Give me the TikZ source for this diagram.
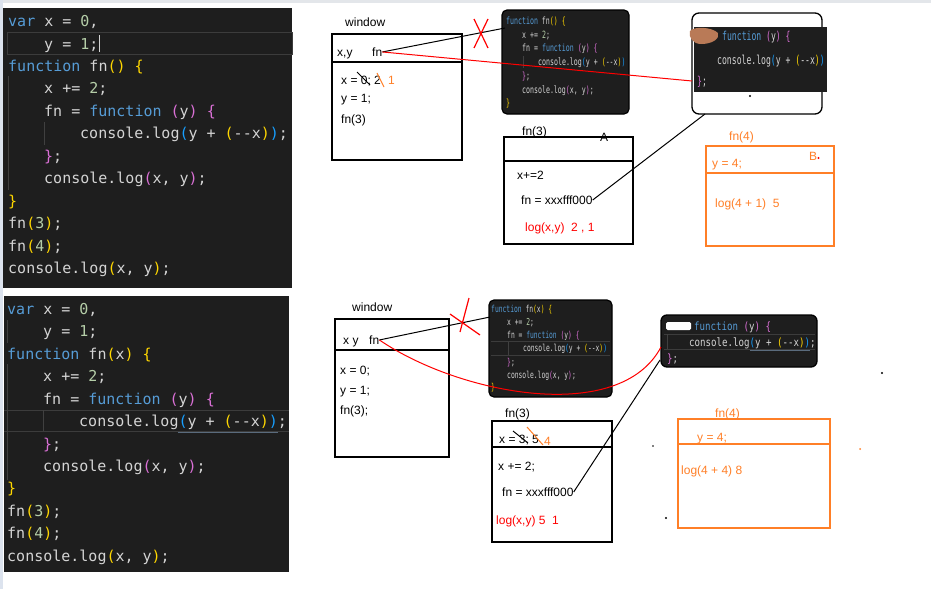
\documentclass[tikz,border=0pt]{standalone}
\usepackage{fontspec}
\setmainfont{Liberation Sans}
\newfontfamily\codefont{DejaVu Sans Mono}
\newfontfamily\condfont[FakeStretch=0.66]{DejaVu Sans Mono}
\newfontfamily\condwide[FakeStretch=0.8]{DejaVu Sans Mono}

\definecolor{codebg}{HTML}{1E1E1E}
\definecolor{codetx}{HTML}{D4D4D4}
\definecolor{kw}{HTML}{569CD6}
\definecolor{numc}{HTML}{B5CEA8}
\definecolor{brA}{HTML}{FFD700}
\definecolor{brB}{HTML}{DA70D6}
\definecolor{brC}{HTML}{179FFF}
\definecolor{hlline}{HTML}{3C3C3C}
\definecolor{guide}{HTML}{404040}
\definecolor{uline}{HTML}{5A6B7D}
\definecolor{edgegray}{HTML}{E3E6EA}
\definecolor{edgeblue}{HTML}{DCE3EE}
\definecolor{inkorange}{HTML}{FF7F27}
\definecolor{inkred}{HTML}{FF0000}
\definecolor{blobbrown}{HTML}{B97A57}

\newcommand\ckw[1]{\textcolor{kw}{#1}}
\newcommand\cnum[1]{\textcolor{numc}{#1}}
\newcommand\cba[1]{\textcolor{brA}{#1}}
\newcommand\cbb[1]{\textcolor{brB}{#1}}
\newcommand\cbc[1]{\textcolor{brC}{#1}}

\tikzset{
  code/.style={anchor=base west, inner sep=0pt, text=codetx, font=\codefont\fontsize{15}{18}\selectfont},
  minicode/.style={anchor=base west, inner sep=0pt, text=codetx, font=\condfont\fontsize{10}{12}\selectfont},
  minicodeb/.style={anchor=base west, inner sep=0pt, text=codetx, font=\condfont\fontsize{9.6}{12}\selectfont},
  midcode/.style={anchor=base west, inner sep=0pt, text=codetx, font=\condfont\fontsize{12.3}{14}\selectfont},
  widecode/.style={anchor=base west, inner sep=0pt, text=codetx, font=\condwide\fontsize{11.4}{14}\selectfont},
  lbl/.style={anchor=base west, inner sep=0pt, font=\fontsize{12}{14}\selectfont},
  olbl/.style={lbl, text=inkorange},
  rlbl/.style={lbl, text=inkred},
  framebox/.style={draw=black, line width=1.3pt},
  oframebox/.style={draw=inkorange, line width=1.3pt},
  link/.style={draw=black, line width=1pt},
  rlink/.style={draw=inkred, line width=1pt},
  guideline/.style={draw=guide, line width=0.8pt}
}

\begin{document}
\begin{tikzpicture}[x=1pt,y=-1pt]
\useasboundingbox (0,0) rectangle (931,589);
\fill[white] (0,0) rectangle (931,589);
\fill[edgegray] (0,0) rectangle (931,2.5);
\fill[edgeblue] (0,0) rectangle (3,589);

% ---------- editor panel: first version ----------
\fill[codebg] (3,8) rectangle (292,288);
\draw[hlline, line width=1pt] (7,32) rectangle (292,54);
\draw[guideline] (8,76) -- (8,190);
\draw[guideline] (44,122) -- (44,145);
\node[code] (a1) at (8,26.5) {\ckw{var} x = \cnum{0},};
\node[code] (a2) at (44,49) {y = \cnum{1};};
\draw[codetx, line width=1pt] (99.5,35) -- (99.5,52);
\node[code] (a3) at (8,71) {\ckw{function} fn\cba{()} \cba{\{}};
\node[code] (a4) at (44,93.5) {x += \cnum{2};};
\node[code] (a5) at (44,116) {fn = \ckw{function} \cbb{(}y\cbb{)} \cbb{\{}};
\node[code] (a6) at (80,138) {console.log\cbc{(}y + \cba{(}-{}-x\cba{)}\cbc{)};};
\node[code] (a7) at (44,161) {\cbb{\}};};
\node[code] (a8) at (44,183) {console.log\cbb{(}x, y\cbb{)};};
\node[code] (a9) at (8,206) {\cba{\}}};
\node[code] (a10) at (8,228) {fn\cba{(}\cnum{3}\cba{)};};
\node[code] (a11) at (8,251) {fn\cba{(}\cnum{4}\cba{)};};
\node[code] (a12) at (8,273) {console.log\cba{(}x, y\cba{)};};

% ---------- editor panel: second version ----------
\fill[codebg] (4,296) rectangle (289,572);
\draw[hlline, line width=1pt] (4,410) -- (289,410) (4,431) -- (289,431);
\draw[guideline] (7,320) -- (7,343);
\draw[guideline] (7,364) -- (7,480);
\draw[guideline] (43,410) -- (43,431);
\draw[uline, line width=0.8pt] (178,432) -- (278,432);
\node[code] (b1) at (7,314) {\ckw{var} x = \cnum{0},};
\node[code] (b2) at (43,336.5) {y = \cnum{1};};
\node[code] (b3) at (7,359) {\ckw{function} fn\cba{(}x\cba{)} \cba{\{}};
\node[code] (b4) at (43,381.5) {x += \cnum{2};};
\node[code] (b5) at (43,404) {fn = \ckw{function} \cbb{(}y\cbb{)} \cbb{\{}};
\node[code] (b6) at (79,426) {console.log\cbc{(}y + \cba{(}-{}-x\cba{)}\cbc{)};};
\node[code] (b7) at (43,449) {\cbb{\}};};
\node[code] (b8) at (43,471) {console.log\cbb{(}x, y\cbb{)};};
\node[code] (b9) at (7,493.5) {\cba{\}}};
\node[code] (b10) at (7,516) {fn\cba{(}\cnum{3}\cba{)};};
\node[code] (b11) at (7,538.5) {fn\cba{(}\cnum{4}\cba{)};};
\node[code] (b12) at (7,561) {console.log\cba{(}x, y\cba{)};};

% ================= upper diagram =================
% global scope
\node[lbl] (w1lbl) at (345,26) {window};
\draw[framebox] (332,34) rectangle (462,160);
\draw[framebox] (332,62) -- (462,62);
\node[lbl] (w1xy) at (337,56.3) {x,y};
\node[lbl] (w1fn) at (372,56.3) {fn};
\node[lbl] (w1x) at (341,84.3) {x = 0; 2};
\draw[black, line width=1pt] (357,72) -- (370,85);
\draw[inkorange, line width=1pt] (377,73) -- (384,87);
\node[olbl] (w1one) at (388,84.3) {1};
\node[lbl] (w1y) at (341,102.3) {y = 1;};
\node[lbl] (w1call) at (341,123.3) {fn(3)};

% fn source
\draw[line width=1.2pt, fill=codebg, rounded corners=5pt] (502,10) rectangle (629,114);
\draw[guideline, line width=0.6pt] (523,56) -- (523,68);
\node[minicode] (s1) at (506,24) {\ckw{function} fn\cba{()} \cba{\{}};
\node[minicode] (s2) at (522,38) {x += \cnum{2};};
\node[minicode] (s3) at (522,51.5) {fn = \ckw{function} \cbb{(}y\cbb{)} \cbb{\{}};
\node[minicode] (s4) at (538,65) {console.log\cbc{(}y + \cba{(}-{}-x\cba{)}\cbc{)}};
\node[minicode] (s5) at (522,79) {\cbb{\}};};
\node[minicode] (s6) at (522,93) {console.log\cbb{(}x, y\cbb{)};};
\node[minicode] (s7) at (506,106.5) {\cba{\}}};
\coordinate (s-in) at (505,28);

% inner function source
\draw[line width=1.3pt, fill=white, rounded corners=7pt] (692,13) rectangle (822,114);
\fill[codebg] (694,27) rectangle (827,92);
\node[midcode] (f1) at (722,40) {\ckw{function} \cbb{(}y\cbb{)} \cbb{\{}};
\node[midcode] (f2) at (717,64) {console.log\cbc{(}y + \cba{(}-{}-x\cba{)}\cbc{)}};
\node[midcode] (f3) at (697,85) {\cbb{\}};};
\fill[blobbrown] (690,31) .. controls (694,26) and (712,27) .. (718,33)
  .. controls (720,39) and (712,44) .. (701,44) .. controls (693,44) and (688,37) .. (690,31);
\fill[black] (750,96) circle (1.1);
\coordinate (f-in) at (692,81);
\coordinate (f-out) at (705,114);

% crossed-out link and new link
\draw[link] (w1fn.east) -- (s-in);
\draw[inkred, line width=1.2pt] (474,19) -- (488,48) (488,19) -- (474,48);
\draw[rlink] (w1fn.east) -- (f-in);

% fn(3) scope
\node[lbl] (c1lbl) at (522,135.5) {fn(3)};
\draw[framebox] (504,137) rectangle (633,244);
\draw[framebox] (503,161) -- (633,161);
\node[lbl] (c1A) at (600,141.3) {A};
\node[lbl] (c1x) at (517,179.3) {x+=2};
\node[lbl] (c1fn) at (521,204.3) {fn = xxxfff000};
\node[rlbl] (c1log) at (525,231.3) {log(x,y)\ \ 2 , 1};
\draw[link] (c1fn.east) -- (f-out);

% fn(4) scope
\node[olbl] (d1lbl) at (729,140.3) {fn(4)};
\draw[oframebox] (706,146) rectangle (834,246);
\draw[oframebox] (706,173) -- (834,173);
\node[olbl] (d1y) at (712,167.3) {y = 4;};
\node[olbl] (d1B) at (809,160.3) {B};
\fill[inkred] (818.5,158) circle (1.2);
\node[olbl] (d1log) at (715,207.3) {log(4 + 1)\ \ 5};

% ================= lower diagram =================
\node[lbl] (w2lbl) at (352,311.3) {window};
\draw[framebox] (335,319) rectangle (449,457);
\draw[framebox] (335,350) -- (449,350);
\node[lbl] (w2xy) at (343,344.3) {x y};
\node[lbl] (w2fn) at (369,344.3) {fn};
\node[lbl] (w2x) at (340,374.3) {x = 0;};
\node[lbl] (w2y) at (340,394.3) {y = 1;};
\node[lbl] (w2call) at (340,414.3) {fn(3);};

% fn(x) source
\draw[line width=1.2pt, fill=codebg, rounded corners=5pt] (489,300) rectangle (612,397);
\draw[hlline, line width=0.8pt] (491,341.5) -- (610,341.5) (491,355) -- (610,355);
\draw[guideline, line width=0.6pt] (508,342) -- (508,355);
\node[minicodeb] (t1) at (491,312) {\ckw{function} fn\cba{(}x\cba{)} \cba{\{}};
\node[minicodeb] (t2) at (507,325) {x += \cnum{2};};
\node[minicodeb] (t3) at (507,338) {fn = \ckw{function} \cbb{(}y\cbb{)} \cbb{\{}};
\node[minicodeb] (t4) at (523,351) {console.log\cbc{(}y + \cba{(}-{}-x\cba{)}\cbc{)}};
\node[minicodeb] (t5) at (507,365) {\cbb{\}};};
\node[minicodeb] (t6) at (507,378) {console.log\cbb{(}x, y\cbb{)};};
\node[minicodeb] (t7) at (491,390) {\cba{\}}};
\coordinate (t-in) at (490,317);

% inner function source
\draw[line width=1.3pt, fill=codebg, rounded corners=6pt] (661,315) rectangle (817,367);
\draw[hlline, line width=0.8pt] (664,334) -- (815,334) (664,349) -- (815,349);
\draw[guideline, line width=0.6pt] (667,334) -- (667,349);
\draw[uline, line width=0.7pt] (750,350) -- (810,350);
\node[widecode] (g1) at (694,330) {\ckw{function} \cbb{(}y\cbb{)} \cbb{\{}};
\node[widecode] (g2) at (689,346) {console.log\cbc{(}y + \cba{(}-{}-x\cba{)}\cbc{)};};
\node[widecode] (g3) at (667,362) {\cbb{\}};};
\fill[white, rounded corners=1.5pt] (666,322) rectangle (691,330);
\coordinate (g-in) at (661,347);
\coordinate (g-out) at (660,360);

% crossed-out link and new link
\draw[link] (w2fn.east) -- (t-in);
\draw[inkred, line width=1.2pt] (450,314) -- (480,335) (469,298) -- (460,332);
\draw[rlink] (w2fn.east) .. controls (460,395) and (620,425) .. (g-in);

% fn(3) scope
\node[lbl] (e1lbl) at (505,417.3) {fn(3)};
\draw[framebox] (492,421) rectangle (612,542);
\draw[framebox] (492,447) -- (612,447);
\node[lbl] (e1x) at (499,443.3) {x = 3; 5};
\draw[black, line width=1pt] (513,431) -- (528,443);
\draw[inkorange, line width=1pt] (527,427) -- (543,445);
\node[olbl] (e1four) at (544,445.3) {4};
\node[lbl] (e1inc) at (498,470.3) {x += 2;};
\node[lbl] (e1fn) at (502,496.3) {fn = xxxfff000};
\node[rlbl] (e1log) at (496,524.3) {log(x,y) 5\ \ 1};
\draw[link] (e1fn.east) -- (g-out);

% fn(4) scope
\node[olbl] (h1lbl) at (715,417.3) {fn(4)};
\draw[oframebox] (678,419) rectangle (830,528);
\draw[oframebox] (678,444) -- (830,444);
\node[olbl] (h1y) at (697,441.3) {y = 4;};
\node[olbl] (h1log) at (681,474.3) {log(4 + 4) 8};

% stray pen marks
\fill[black] (882,373) circle (1.1);
\fill[black] (653,446) circle (0.9);
\fill[black] (666,518) circle (1.1);
\fill[inkorange] (860,449) circle (1);
\end{tikzpicture}
\end{document}
